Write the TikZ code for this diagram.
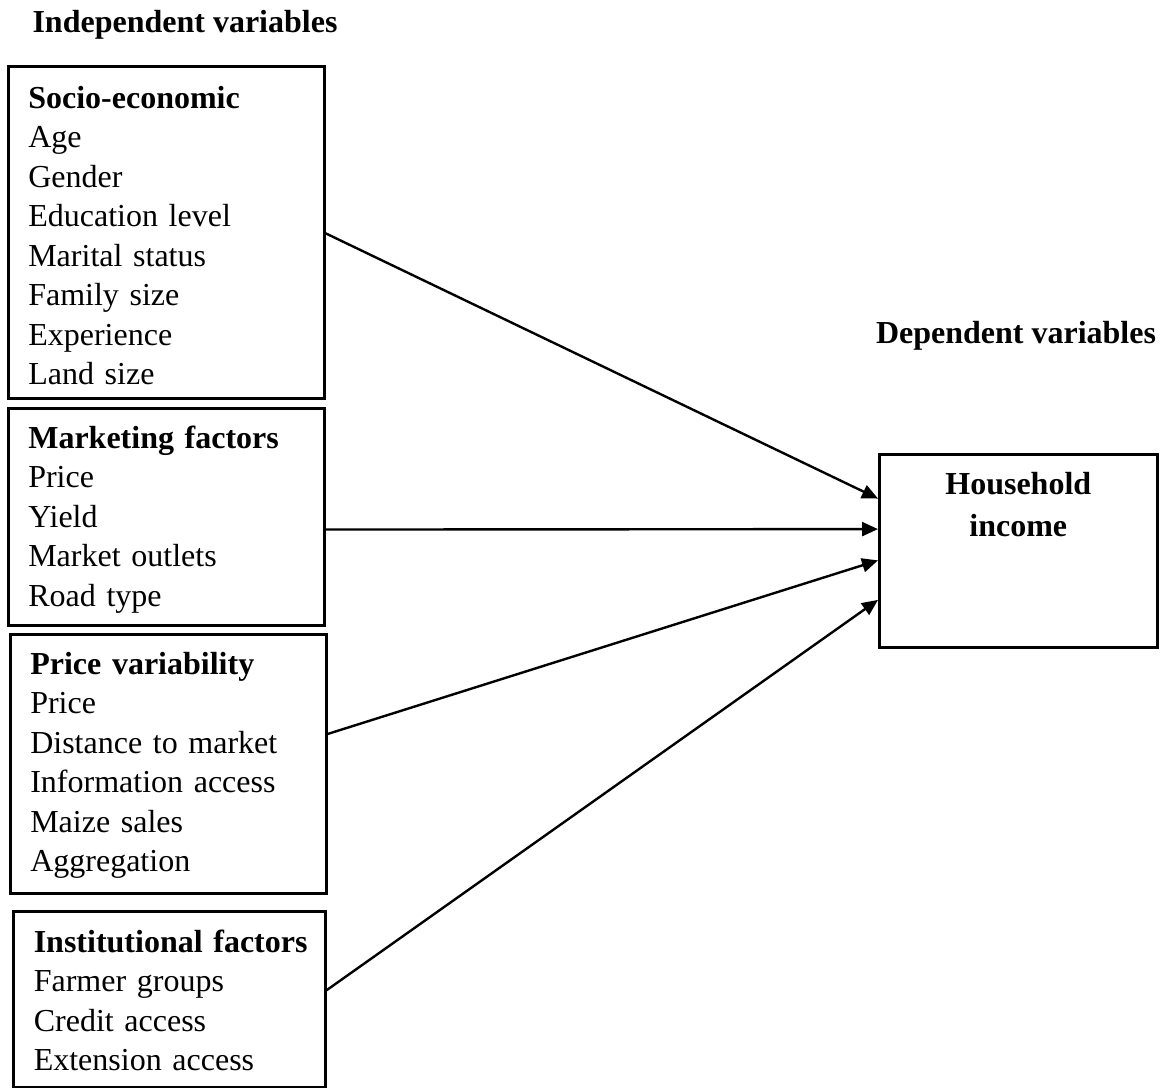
\documentclass[tikz,border=0pt]{standalone}
\usepackage{fontspec}
\setmainfont{Liberation Serif}
\usetikzlibrary{arrows.meta,calc}
\newcommand{\topstrut}[1]{\rule{0pt}{#1pt}}
\newcommand{\botstrut}[1]{\rule[-#1pt]{0pt}{0pt}}
\begin{document}
\begin{tikzpicture}[x=1pt,y=-1pt,
  varbox/.style={draw, line width=2.6pt, inner ysep=0pt, inner xsep=20pt, anchor=north west,
    align=left, font=\fontsize{32}{39.5}\selectfont},
  hhbox/.style={draw, line width=2.6pt, inner sep=0pt, anchor=north west,
    align=center, text width=278pt, font=\fontsize{32}{42}\selectfont\bfseries},
  title/.style={anchor=base, inner sep=0pt, font=\fontsize{32}{39.5}\selectfont\bfseries},
  conn/.style={line width=2.4pt, -{Triangle[length=16pt,width=14pt]}}]
\useasboundingbox (0,0) rectangle (1161,1087);

\node[title] (ind) at (185,32) {Independent variables};
\node[title] (dep) at (1016,343) {Dependent variables};

\node[varbox, text width=276pt] (s1) at (7,65) {\topstrut{42}\textbf{Socio-economic}\\
Age\\Gender\\Education level\\Marital status\\Family size\\Experience\\Land size\botstrut{13.5}};

\node[varbox, text width=276pt] (s2) at (7,407) {\topstrut{40}\textbf{Marketing factors}\\
Price\\Yield\\Market outlets\\Road type\botstrut{19}};

\node[varbox, text width=276pt, inner xsep=20pt] (s3) at (9,633) {\topstrut{40}\textbf{Price variability}\\
Price\\Distance to market\\Information access\\Maize sales\\Aggregation\botstrut{21.5}};

\node[varbox, text width=274pt, inner xsep=19pt] (s4) at (12,910) {\topstrut{41}\mbox{\hspace{1.5pt}\textbf{Institutional factors}}\\
\hspace{1.5pt}Farmer groups\\\hspace{1.5pt}Credit access\\\hspace{1.5pt}Extension access\botstrut{16.5}};

\node[hhbox] (hh) at (878,453) {\topstrut{40}Household\\income\botstrut{111}};

\draw[conn] ($(s1.north east)!0.503!(s1.south east)$) -- ($(hh.north west)!0.233!(hh.south west)$);
\draw[conn] ($(s2.north east)!0.558!(s2.south east)$) -- ($(hh.north west)!0.389!(hh.south west)$);
\draw[conn] ($(s3.north east)!0.386!(s3.south east)$) -- ($(hh.north west)!0.549!(hh.south west)$);
\draw[conn] ($(s4.north east)!0.449!(s4.south east)$) -- ($(hh.north west)!0.751!(hh.south west)$);
\end{tikzpicture}
\end{document}
